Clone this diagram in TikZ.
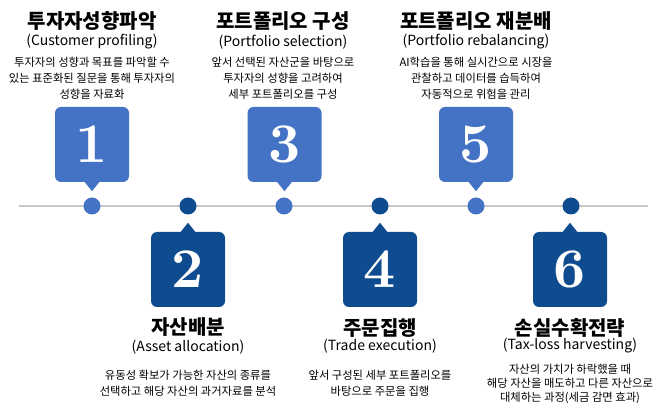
\documentclass[tikz,border=0pt]{standalone}
\usepackage{fontspec}
\setmainfont{Noto Sans CJK KR}
\newfontfamily\numfont{lmroman10-bold}[Extension=.otf]
\definecolor{lb}{HTML}{4472C4}
\definecolor{db}{HTML}{0F4C8F}
\definecolor{ln}{HTML}{C9C9C9}
\tikzset{
  boxl/.style={fill=lb, rounded corners=6pt, minimum width=74pt, minimum height=75pt, inner sep=0pt, text=white, font=\numfont\fontsize{56}{56}\selectfont},
  boxd/.style={boxl, fill=db},
  dotl/.style={circle, fill=lb, minimum size=17pt, inner sep=0pt},
  dotd/.style={dotl, fill=db},
  title/.style={font=\bfseries\fontsize{20}{22}\selectfont, inner sep=0pt},
  sub/.style={font=\fontsize{14}{16}\selectfont, inner sep=0pt},
  desc/.style={font=\fontsize{11.3}{16}\selectfont, align=center, inner sep=0pt},
  descb/.style={desc, font=\fontsize{11.3}{14}\selectfont},
}
\begin{document}
\begin{tikzpicture}[x=1pt, y=-1pt]
\useasboundingbox (0,0) rectangle (666,411);
% timeline
\coordinate (L) at (19,206);
\coordinate (R) at (648,206);
\draw[ln, line width=2.5pt] (L) -- (R);
\node[dotl] (c1) at (92,206) {};
\node[dotd] (c2) at (188,206) {};
\node[dotl] (c3) at (284,206) {};
\node[dotd] (c4) at (380,206) {};
\node[dotl] (c5) at (476,206) {};
\node[dotd] (c6) at (571,206) {};
% upper boxes
\foreach \n/\x in {1/92, 3/284.5, 5/476} {
  \node[boxl] (b\n) at (\x,144.5) {\n};
  \fill[lb] ([xshift=-8pt,yshift=1pt]b\n.south) -- ([yshift=-9pt]b\n.south) -- ([xshift=8pt,yshift=1pt]b\n.south) -- cycle;
}
% lower boxes
\foreach \n/\x in {2/188, 4/380, 6/570} {
  \node[boxd] (b\n) at (\x,269.5) {\n};
  \fill[db] ([xshift=-8pt,yshift=-1pt]b\n.north) -- ([yshift=9pt]b\n.north) -- ([xshift=8pt,yshift=-1pt]b\n.north) -- cycle;
}
% upper texts
\node[title] (t1) at (92,21) {투자자성향파악};
\node[sub] (s1) at (92,42) {(Customer profiling)};
\node[desc] (d1) at (92,78) {투자자의 성향과 목표를 파악할 수\\있는 표준화된 질문을 통해 투자자의\\성향을 자료화};
\node[title] (t3) at (283,21) {포트폴리오 구성};
\node[sub] (s3) at (283,42) {(Portfolio selection)};
\node[desc] (d3) at (283,78) {앞서 선택된 자산군을 바탕으로\\투자자의 성향을 고려하여\\세부 포트폴리오를 구성};
\node[title] (t5) at (476,21) {포트폴리오 재분배};
\node[sub] (s5) at (476,42) {(Portfolio rebalancing)};
\node[desc] (d5) at (476,78) {AI학습을 통해 실시간으로 시장을\\관찰하고 데이터를 습득하여\\자동적으로 위험을 관리};
% lower texts
\node[title] (t2) at (188,327) {자산배분};
\node[sub] (s2) at (188,347) {(Asset allocation)};
\node[desc] (d2) at (188,383) {유동성 확보가 가능한 자산의 종류를\\선택하고 해당 자산의 과거자료를 분석};
\node[title] (t4) at (380,328) {주문집행};
\node[sub] (s4) at (380,346) {(Trade execution)};
\node[desc] (d4) at (380,383) {앞서 구성된 세부 포트폴리오를\\바탕으로 주문을 집행};
\node[title] (t6) at (570,328) {손실수확전략};
\node[sub] (s6) at (570,346) {(Tax-loss harvesting)};
\node[descb] (d6) at (570,384) {자산의 가치가 하락했을 때\\해당 자산을 매도하고 다른 자산으로\\대체하는 과정(세금 감면 효과)};
\end{tikzpicture}
\end{document}
